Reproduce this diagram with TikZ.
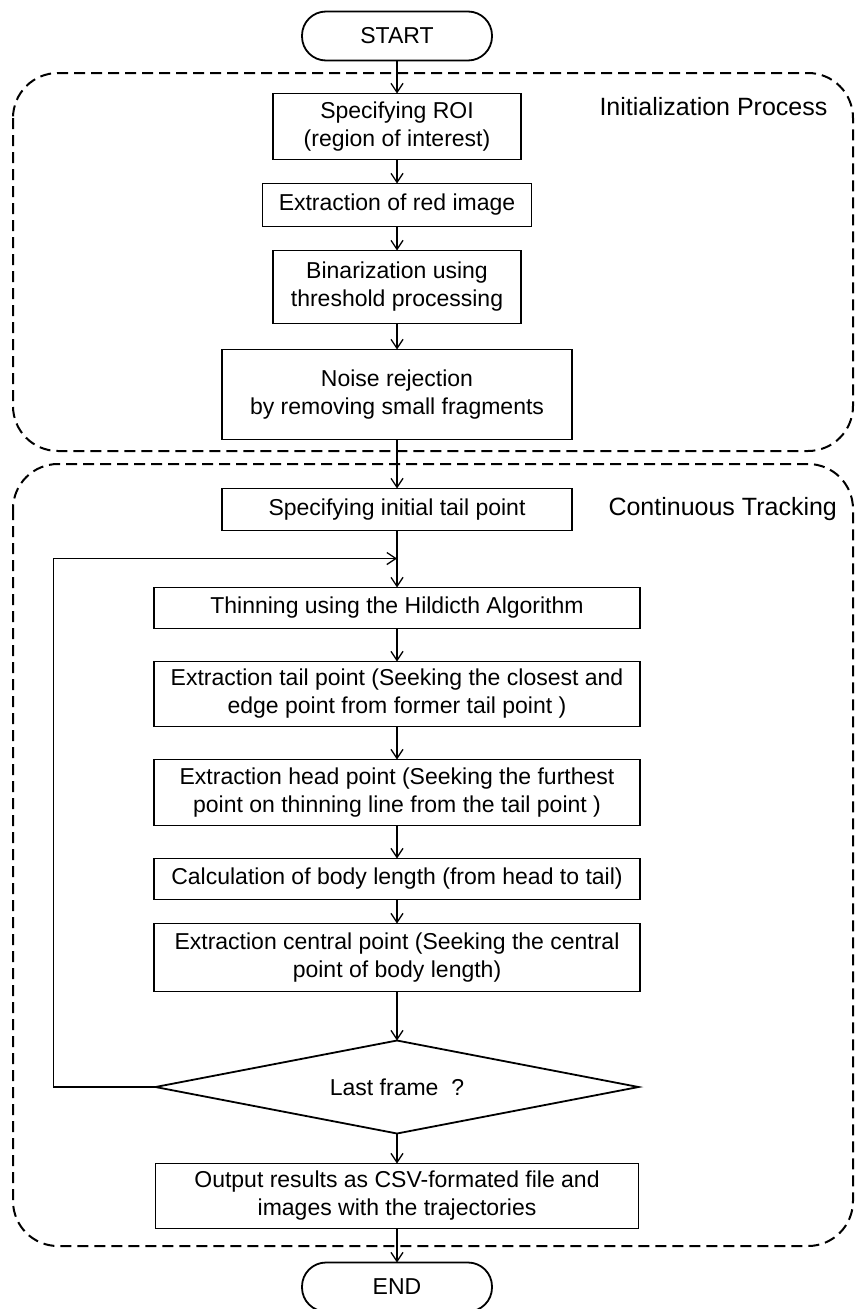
\documentclass[tikz,border=0pt]{standalone}
\usepackage{fontspec}
\setmainfont{Liberation Sans}
\usetikzlibrary{shapes.geometric,positioning,arrows.meta}

\begin{document}
\begin{tikzpicture}[x=1pt,y=-1pt]

		% Define styles
		\tikzstyle{process} = [
		rectangle, draw=black, line width=1.8pt, inner sep=0pt, outer sep=0pt,
		text centered, align=center, font=\fontsize{23}{28}\selectfont]
		\tikzstyle{term} = [
		rectangle, rounded corners=24pt, draw=black, line width=1.8pt, outer sep=0pt,
		minimum width=190pt, minimum height=49pt,
		font=\fontsize{23}{28}\selectfont]
		\tikzstyle{decision} = [
		diamond, aspect=5.2, draw=black, line width=1.8pt, inner sep=0pt, outer sep=0pt,
		minimum width=483pt, minimum height=93pt,
		font=\fontsize{23}{28}\selectfont]
		\tikzstyle{region} = [dash pattern=on 11pt off 6pt, line width=2pt, rounded corners=45pt]
		\tikzstyle{caption} = [font=\fontsize{25}{30}\selectfont, anchor=west]
		\tikzstyle{arrow} = [line width=1.3pt,-{Straight Barb[length=9pt,width=12pt]}]

		\useasboundingbox (0,0) rectangle (856,1309);

		% Dashed regions
		\draw [region] (13,73) rectangle (853,451);
		\draw [region] (13,464) rectangle (853,1246);

		% Nodes
		\node (start) [term] at (397,36) {START};

		\node (roi) [process, below=33pt of start, minimum width=248pt, minimum height=66pt] {
			Specifying ROI \\
			(region of interest)
		};

		\node (red) [process, below=24pt of roi, minimum width=269pt, minimum height=43pt] {Extraction of red image};

		\node (bin) [process, below=24pt of red, minimum width=248pt, minimum height=73pt] {
			Binarization using \\
			threshold processing
		};

		\node (noise) [process, below=26pt of bin, minimum width=350pt, minimum height=90pt] {
			Noise rejection \\
			by removing small fragments
		};

		\node (init) [process, below=49pt of noise, minimum width=350pt, minimum height=42pt] {Specifying initial tail point};

		\path (init.south) ++(0,28) coordinate (join);

		\node (thin) [process, below=57pt of init, minimum width=486pt, minimum height=41pt] {Thinning using the Hildicth Algorithm};

		\node (tail) [process, below=33pt of thin, minimum width=486pt, minimum height=65pt] {
			Extraction tail point (Seeking the closest and \\
			edge point from former tail point )
		};

		\node (head) [process, below=33pt of tail, minimum width=486pt, minimum height=66pt] {
			Extraction head point (Seeking the furthest \\
			point on thinning line from the tail point )
		};

		\node (calc) [process, below=33pt of head, minimum width=486pt, minimum height=41pt] {Calculation of body length (from head to tail)};

		\node (central) [process, below=24pt of calc, minimum width=486pt, minimum height=68pt] {
			Extraction central point (Seeking the central \\
			point of body length)
		};

		\node (check) [decision, below=49pt of central] {Last frame\ \ ?};

		\node (output) [process, below=30pt of check, minimum width=483pt, minimum height=65pt] {
			Output results as CSV-formated file and \\
			images with the trajectories
		};

		\node (stop) [term, below=34pt of output] {END};

		% Labels
		\node (initlabel) [caption] at (596,107) {Initialization Process};
		\node (tracklabel) [caption, right=33pt of init] {Continuous Tracking};

		% Arrows
		\draw [arrow] (start) -- (roi);
		\draw [arrow] (roi) -- (red);
		\draw [arrow] (red) -- (bin);
		\draw [arrow] (bin) -- (noise);
		\draw [arrow] (noise) -- (init);
		\draw [arrow] (init) -- (thin);
		\draw [arrow] (thin) -- (tail);
		\draw [arrow] (tail) -- (head);
		\draw [arrow] (head) -- (calc);
		\draw [arrow] (calc) -- (central);
		\draw [arrow] (central) -- (check);
		\draw [arrow] (check) -- (output);
		\draw [arrow] (output) -- (stop);
		\draw [arrow] (check.west) -- ++(-102,0) |- (join);
	\end{tikzpicture}
\end{document}
